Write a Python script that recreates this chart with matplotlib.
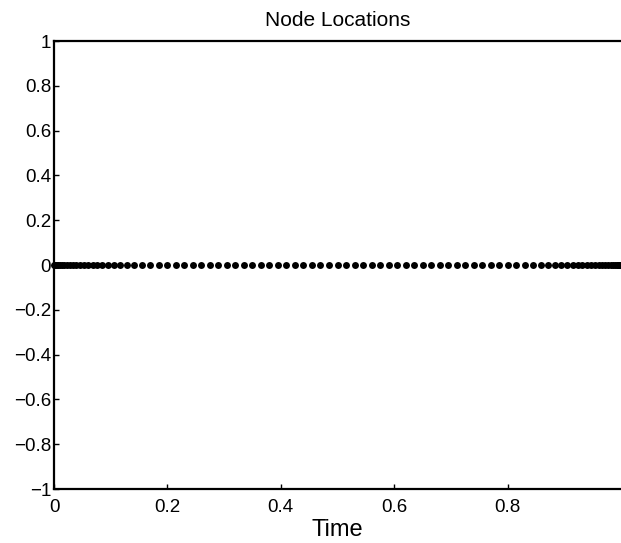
import matplotlib
matplotlib.use("Agg")
import matplotlib.pyplot as plt

title = "Node Locations"
xlabel = "Time"
xticks = [0, 0.2, 0.4, 0.6, 0.8]
xtick_labels = ["0", "0.2", "0.4", "0.6", "0.8"]
yticks = [-1, -0.8, -0.6, -0.4, -0.2, 0, 0.2, 0.4, 0.6, 0.8, 1]
ytick_labels = ["\u22121", "\u22120.8", "\u22120.6", "\u22120.4", "\u22120.2", "0",
                "0.2", "0.4", "0.6", "0.8", "1"]

node_x = [0.0, 0.0015, 0.003, 0.005, 0.0075, 0.0105, 0.014, 0.018, 0.0225, 0.0275,
          0.033, 0.039, 0.0455, 0.0525, 0.06, 0.068, 0.0765, 0.0855, 0.095, 0.105,
          0.116, 0.128, 0.141, 0.155, 0.170,
          0.185, 0.2, 0.215, 0.23, 0.245, 0.26, 0.275, 0.29, 0.305, 0.32, 0.335,
          0.35, 0.365, 0.38, 0.395, 0.41, 0.425, 0.44, 0.455, 0.47, 0.485, 0.5,
          0.515, 0.53, 0.545, 0.56, 0.575, 0.59, 0.605, 0.62, 0.635, 0.65, 0.665,
          0.68, 0.695, 0.71, 0.725, 0.74, 0.755, 0.77, 0.785, 0.8, 0.815, 0.83,
          0.845, 0.859, 0.872, 0.884, 0.895, 0.905, 0.9145, 0.9235, 0.932, 0.94,
          0.9475, 0.9545, 0.961, 0.967, 0.9725, 0.9775, 0.982, 0.986, 0.9895,
          0.9925, 0.995, 0.997, 0.9985, 1.0]
node_y = [0.0] * len(node_x)

plt.rcParams['font.family'] = ['Liberation Sans', 'DejaVu Sans']

fig = plt.figure(figsize=(6.21, 5.43), dpi=100)
W, H = 621, 543
left, right, top, bottom = 54, 621, 41, 489
ax = fig.add_axes([left / W, (H - bottom) / H, (right - left) / W, (bottom - top) / H])

ax.plot(node_x, node_y, linestyle='none', marker='o', markersize=5.0,
        color='black', markeredgewidth=0, clip_on=False)

ax.set_xlim(0, 1)
ax.set_ylim(-1, 1)
ax.set_xticks(xticks)
ax.set_xticklabels(xtick_labels, fontsize=13.5)
ax.set_yticks(yticks)
ax.set_yticklabels(ytick_labels, fontsize=13.5)
ax.tick_params(direction='in', length=3.5, width=1.0, top=False, right=False)
ax.tick_params(axis='x', pad=7)
ax.tick_params(axis='y', pad=2)
for s in ['left', 'top', 'bottom']:
    ax.spines[s].set_linewidth(1.6)
ax.spines['right'].set_visible(False)

ax.set_title(title, fontsize=15, pad=11)
ax.set_xlabel(xlabel, fontsize=17, labelpad=2)

fig.savefig("out.png", dpi=100)
